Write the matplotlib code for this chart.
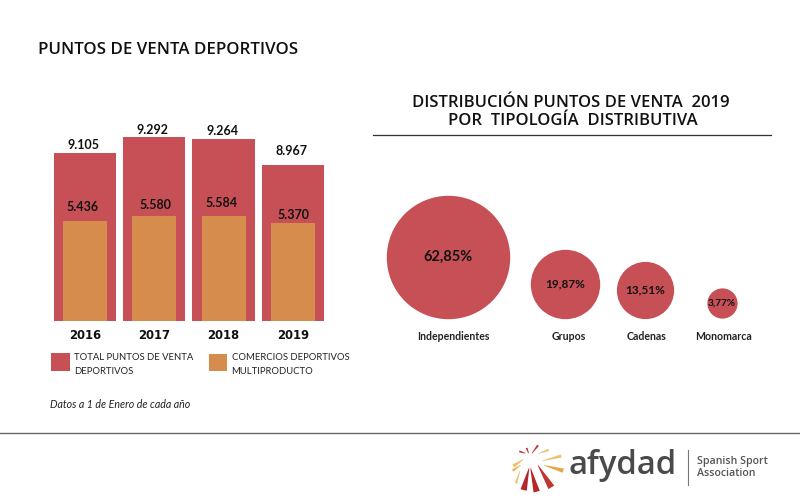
import numpy as np
import matplotlib
matplotlib.use('Agg')
import matplotlib.pyplot as plt
from matplotlib.patches import Polygon

years = ['2016', '2017', '2018', '2019']
total_points = [9105, 9292, 9264, 8967]
multisport_shops = [5436, 5580, 5584, 5370]
total_labels = ['9.105', '9.292', '9.264', '8.967']
shop_labels = ['5.436', '5.580', '5.584', '5.370']

channels = ['Independientes', 'Grupos', 'Cadenas', 'Monomarca']
channel_share = [62.85, 19.87, 13.51, 3.77]
channel_labels = ['62,85%', '19,87%', '13,51%', '3,77%']

RED = '#C65056'
ORANGE = '#D58C4D'
INK = '#111111'
LABEL_FONT = 'Lato'
TITLE_FONT = 'Open Sans'


def add_px_axes(fig, left, top, right, bottom):
    # axes placed with pixel coordinates of the 800x500 canvas
    return fig.add_axes([left / 800, 1 - bottom / 500, (right - left) / 800, (bottom - top) / 500])


def draw_bars(fig):
    ax = add_px_axes(fig, 50.35, 120, 327.55, 321)
    ax2 = ax.twinx()
    ax.set_zorder(1)
    ax2.set_zorder(2)
    x = np.arange(len(years))

    # the picture's bars start from a cut axis, each series on its own scale
    ax.bar(x, total_points, width=0.9, color=RED)
    ax.set_ylim(7175, 7175 + 201 / 0.087)
    ax2.bar(x, multisport_shops, width=0.635, color=ORANGE)
    ax2.set_ylim(2303, 2303 + 201 / 0.0319)
    ax.set_xlim(-0.5, 3.5)

    # labels do not sit at a constant distance from the bars in the original
    total_lift = [8, 7, 8.5, 14.5]
    shop_lift = [14, 11.5, 13, 8.5]
    shop_shift = [-2, 1, -2, 1]
    for i in x:
        ax.annotate(total_labels[i], (i, total_points[i]), xytext=(-1.5, total_lift[i]), textcoords='offset pixels',
                    ha='center', va='center', fontsize=9, fontweight='bold', family=LABEL_FONT, color=INK,
                    annotation_clip=False)
        ax2.annotate(shop_labels[i], (i, multisport_shops[i]), xytext=(shop_shift[i], shop_lift[i]),
                     textcoords='offset pixels', ha='center', va='center', fontsize=9, fontweight='bold',
                     family=LABEL_FONT, color=INK)

    ax.set_xticks(x, years)
    ax.tick_params(axis='x', length=0, pad=5.5)
    for lab in ax.get_xticklabels():
        lab.set(fontsize=8.4, fontweight='bold', family='DejaVu Sans', color=INK)
    ax.set_yticks([])
    ax2.set_yticks([])
    for a in (ax, ax2):
        a.patch.set_visible(False)
        for s in a.spines.values():
            s.set_visible(False)


def draw_bubbles(ax):
    base = 318.5
    dpi = ax.figure.dpi
    radii = np.sqrt(np.array(channel_share) * 60.6)
    gaps = [20.3, 17, 32.7]
    left = 386.6
    label_xs = [453, 569, 647, 723]
    for i, name in enumerate(channels):
        r = radii[i]
        cx = left + r
        ax.scatter(cx, base - r, s=(2 * r * 72 / dpi) ** 2, color=RED, linewidths=0, zorder=2)
        ax.text(cx, base - r, channel_labels[i], ha='center', va='center', fontweight='bold',
                family=LABEL_FONT, color=INK, fontsize=[10.5, 8.5, 8.5, 7.2][i], zorder=3)
        ax.text(label_xs[i], 336, name, ha='center', va='center', fontweight='bold',
                family=LABEL_FONT, color='#222222', fontsize=7.6)
        if i < len(gaps):
            left = cx + r + gaps[i]


def draw_logo(ax):
    # rays of the logo: inner point, outer point (crop px of 3x zoom at 508,440), outer width, colour
    rays = [(63, 85, 47, 150, 3.2, '#B5262C'), (68, 85, 86, 155, 3.2, '#B5262C'),
            (90, 76, 130, 142, 3.4, '#C0352F'), (108, 76, 166, 92, 2.2, '#E3A948'),
            (104, 62, 160, 48, 1.6, '#EBC36F'), (92, 40, 122, 30, 1.3, '#EAC578'),
            (72, 40, 90, 16, 1.1, '#C0353A'), (62, 40, 56, 24, 1.0, '#C0353A'),
            (52, 40, 34, 34, 1.0, '#C0353A'), (46, 58, 16, 78, 1.8, '#EBC36F'),
            (38, 75, 14, 92, 1.4, '#E9B955'), (36, 92, 24, 130, 1.2, '#EBC36F')]
    for x0, y0, x1, y1, hw, col in rays:
        p0 = np.array([508 + x0 / 3, 440 + y0 / 3])
        p1 = np.array([508 + x1 / 3, 440 + y1 / 3])
        d = (p1 - p0) / np.linalg.norm(p1 - p0)
        n = np.array([-d[1], d[0]])
        ax.add_patch(Polygon([p0 - n * 0.3, p0 + n * 0.3, p1 + n * hw, p1 - n * hw],
                             closed=True, color=col, lw=0))
    ax.text(568.5, 466, 'afydad', ha='left', va='center', fontsize=23.6, fontweight='semibold',
            family=TITLE_FONT, color='#4A4A4C')
    ax.plot([688, 688], [450, 485], color='#777777', lw=0.8)
    ax.text(697, 461.5, 'Spanish Sport', ha='left', va='center', fontsize=7.7, fontweight='semibold',
            family=TITLE_FONT, color='#555555')
    ax.text(697, 474, 'Association', ha='left', va='center', fontsize=7.7, fontweight='semibold',
            family=TITLE_FONT, color='#555555')


def main():
    fig = plt.figure(figsize=(8, 5), dpi=100, facecolor='white')
    page = fig.add_axes([0, 0, 1, 1])
    page.set_xlim(0, 800)
    page.set_ylim(500, 0)
    page.axis('off')

    page.text(38, 49.5, 'PUNTOS DE VENTA DEPORTIVOS', ha='left', va='center', fontsize=12.2,
              fontweight='semibold', family=TITLE_FONT, color=INK)
    page.text(571, 103, 'DISTRIBUCIÓN PUNTOS DE VENTA  2019', ha='center', va='center', fontsize=12,
              fontweight='semibold', family=TITLE_FONT, color=INK)
    page.text(573, 121, 'POR  TIPOLOGÍA  DISTRIBUTIVA', ha='center', va='center', fontsize=12,
              fontweight='semibold', family=TITLE_FONT, color=INK)
    page.plot([373, 771], [135, 135], color='#333333', lw=0.9)
    page.plot([0, 800], [433, 433], color='#666666', lw=1.0)

    # legend
    page.add_patch(plt.Rectangle((51, 353), 18.5, 17.5, color=RED, lw=0))
    page.text(74, 357.5, 'TOTAL PUNTOS DE VENTA', va='center', fontsize=6.8, family=LABEL_FONT, color='#222222')
    page.text(74, 371, 'DEPORTIVOS', va='center', fontsize=6.8, family=LABEL_FONT, color='#222222')
    page.add_patch(plt.Rectangle((208.5, 353.5), 18.5, 17, color=ORANGE, lw=0))
    page.text(231.5, 357.5, 'COMERCIOS DEPORTIVOS', va='center', fontsize=6.8, family=LABEL_FONT, color='#222222')
    page.text(231.5, 371, 'MULTIPRODUCTO', va='center', fontsize=6.8, family=LABEL_FONT, color='#222222')
    page.text(50, 404, 'Datos a 1 de Enero de cada año', va='center', fontsize=7.7, style='italic',
              family=LABEL_FONT, color='#222222')

    draw_bars(fig)
    draw_bubbles(page)
    draw_logo(page)

    fig.savefig('out.png', dpi=100)


if __name__ == '__main__':
    main()
